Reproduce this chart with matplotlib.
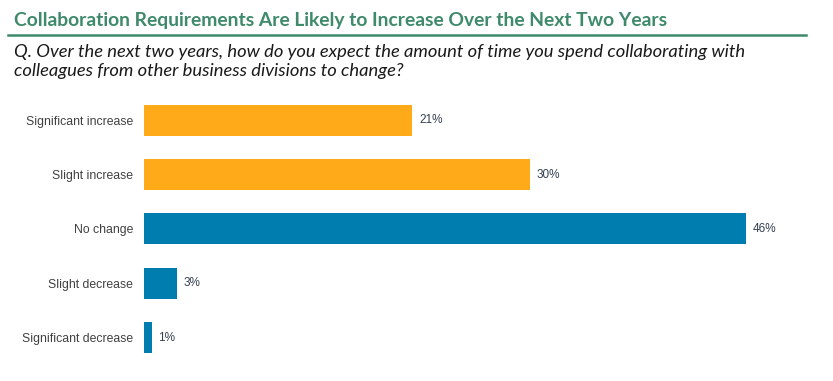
import numpy as np
import matplotlib
matplotlib.use('Agg')
import matplotlib.pyplot as plt

# survey answers, top to bottom (bar lengths, labels as printed)
categories = ["Significant increase", "Slight increase", "No change",
              "Slight decrease", "Significant decrease"]
values = [20.5, 29.5, 46.0, 2.5, 0.6]
labels = ["21%", "30%", "46%", "3%", "1%"]
colors = ["#FFAB19", "#FFAB19", "#007DAF", "#007DAF", "#007DAF"]

title = "Collaboration Requirements Are Likely to Increase Over the Next Two Years"
question = ("Q. Over the next two years, how do you expect the amount of time you spend collaborating with\n"
            "colleagues from other business divisions to change?")

fig = plt.figure(figsize=(8.33, 3.81), dpi=100)
ax = fig.add_axes([0.1729, 0.042, 0.786, 0.714])

y = np.arange(len(categories))
ax.barh(y, values, height=0.57, color=colors)
for yi, v, lab in zip(y, values, labels):
    ax.text(v + 0.5, yi, lab, va='center', ha='left', fontsize=8.5,
            color='#333F50', family='Liberation Sans')

ax.set_yticks(y)
ax.set_yticklabels(categories, fontsize=8.8, color='#404040', family='Liberation Sans')
ax.set_ylim(len(categories) - 0.5, -0.5)
ax.set_xlim(0, 50)
ax.set_xticks([])
ax.tick_params(axis='y', length=0, pad=8)
for s in ax.spines.values():
    s.set_visible(False)

fig.text(0.017, 0.945, title, fontsize=13.9, color='#3E8A6A', fontweight='bold',
         family='Lato', va='center')
fig.add_artist(plt.Line2D([0.01, 0.968], [0.907, 0.907], color='#3E8A6A', lw=1.8))
fig.text(0.017, 0.838, question, fontsize=13.2, color='#1a1a1a', style='italic',
         family='Lato', va='center', linespacing=1.2)

fig.savefig('out.png', dpi=100)
